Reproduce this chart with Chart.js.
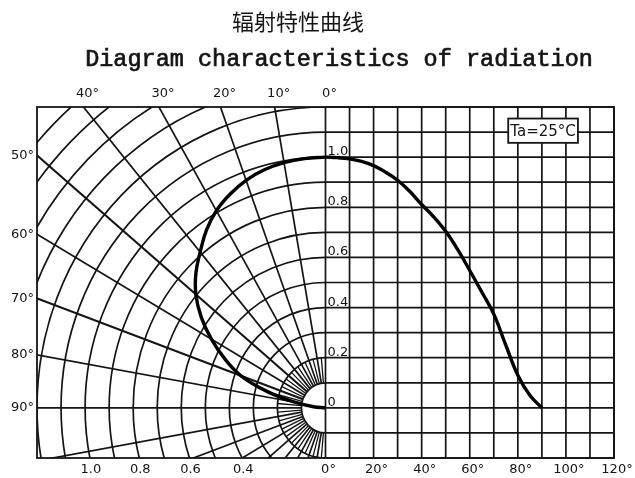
<!DOCTYPE html>
<html>
<head>
<meta charset="utf-8">
<script src="https://cdn.jsdelivr.net/npm/chart.js@4.4.1/dist/chart.umd.min.js"></script>
<style>
  html, body { margin: 0; padding: 0; background: #fff; }
  #wrap { width: 635px; height: 478px; }
</style>
</head>
<body>
<div id="wrap"><canvas id="radiacao"></canvas></div>
<script>
// angulos (graus) e intensidade relativa
const angles = [0, 5, 10, 15, 20, 25, 30, 35, 40, 45, 50, 55, 60, 65, 70, 75, 80, 85, 90];
const intensity = [1.0, 0.998, 0.993, 0.983, 0.966, 0.94, 0.908, 0.864, 0.811, 0.762, 0.704, 0.631, 0.548, 0.462, 0.374, 0.25, 0.13, 0.05, 0.0];

// rotulos dos eixos
const topAngleLabels = [0, 10, 20, 30, 40];
const leftAngleLabels = [50, 60, 70, 80, 90];
const radiusLabels = ["0.4", "0.6", "0.8", "1.0"];
const angleTicks = [0, 20, 40, 60, 80, 100, 120];
const intensityTicks = ["0", "0.2", "0.4", "0.6", "0.8", "1.0"];

const titleCn = "辐射特性曲线";
const titleEn = "Diagram characteristics of radiation";
const noteText = "Ta=25°C";

const ink = "#141414";
const labelFont = "13px 'DejaVu Sans'";

function rad(d) { return d * Math.PI / 180; }

// curva polar (lado esquerdo) e curva cartesiana (lado direito)
const polarPoints = angles.map((a, i) => ({ x: -intensity[i] * Math.sin(rad(a)), y: intensity[i] * Math.cos(rad(a)) }));
const linearPoints = angles.map((a, i) => ({ x: a / 100, y: intensity[i] }));

const gridPlugin = {
    id: 'gridPlugin',
    beforeDatasetsDraw(chart) {
        const ctx = chart.ctx;
        const a = chart.chartArea;
        const x = chart.scales.x, y = chart.scales.y;
        const cx = x.getPixelForValue(0), cy = y.getPixelForValue(0);
        const sx = x.getPixelForValue(1) - cx, sy = cy - y.getPixelForValue(1);

        ctx.save();
        ctx.strokeStyle = ink;
        ctx.lineWidth = 1.7;

        // grade retangular (direita)
        for (let v = 0; v <= 12; v++) {
            const px = x.getPixelForValue(v / 10);
            ctx.beginPath(); ctx.moveTo(px, a.top); ctx.lineTo(px, a.bottom); ctx.stroke();
        }
        for (let v = -2; v <= 12; v++) {
            const py = y.getPixelForValue(v / 10);
            ctx.beginPath(); ctx.moveTo(cx, py); ctx.lineTo(a.right, py); ctx.stroke();
        }

        // grade polar (esquerda)
        ctx.save();
        ctx.beginPath();
        ctx.rect(a.left, a.top, cx - a.left, a.bottom - a.top);
        ctx.clip();
        for (let k = 1; k <= 17; k++) {
            const r = k / 10;
            ctx.beginPath();
            ctx.ellipse(cx, cy, r * sx, r * sy, 0, Math.PI / 2, Math.PI * 1.5);
            ctx.stroke();
        }
        for (let d = 10; d < 180; d += 10) {
            const s = Math.sin(rad(d)), c = Math.cos(rad(d));
            ctx.lineWidth = (d == 50 || d == 70) ? 2.1 : 1.7;
            ctx.beginPath();
            ctx.moveTo(cx - 0.1 * sx * s, cy - 0.1 * sy * c);
            ctx.lineTo(cx - 3 * sx * s, cy - 3 * sy * c);
            ctx.stroke();
        }
        ctx.lineWidth = 1.3;
        for (let d = 5; d < 180; d += 10) {
            const s = Math.sin(rad(d)), c = Math.cos(rad(d));
            ctx.beginPath();
            ctx.moveTo(cx - 0.1 * sx * s, cy - 0.1 * sy * c);
            ctx.lineTo(cx - 0.2 * sx * s, cy - 0.2 * sy * c);
            ctx.stroke();
        }
        ctx.restore();

        ctx.lineWidth = 1.8;
        ctx.strokeRect(a.left, a.top, a.right - a.left, a.bottom - a.top);
        ctx.restore();
    },
    afterDraw(chart) {
        const ctx = chart.ctx;
        const a = chart.chartArea;
        const x = chart.scales.x, y = chart.scales.y;
        const cx = x.getPixelForValue(0);
        const yTop = y.max, xLeft = x.min, yBottom = y.min;

        ctx.save();
        ctx.fillStyle = ink;
        ctx.strokeStyle = ink;

        // titulos
        ctx.textAlign = "center";
        ctx.textBaseline = "middle";
        ctx.font = "22px 'Noto Sans CJK SC'";
        ctx.fillText(titleCn, 298, 22);
        ctx.textBaseline = "alphabetic";
        ctx.font = "23.5px 'Liberation Mono'";
        ctx.lineWidth = 0.7;
        ctx.fillText(titleEn, 339, 66);
        ctx.strokeText(titleEn, 339, 66);

        ctx.font = labelFont;
        // angulos no topo
        ctx.textBaseline = "middle";
        topAngleLabels.forEach(d => {
            const px = x.getPixelForValue(-yTop * Math.tan(rad(d)));
            ctx.fillText(d + "°", px + 4, a.top - 13);
        });
        // angulos na esquerda
        ctx.textAlign = "right";
        leftAngleLabels.forEach(d => {
            const py = y.getPixelForValue(-xLeft / Math.tan(rad(d)));
            ctx.fillText(d + "°", a.left - 3, py);
        });
        // raios embaixo
        ctx.textAlign = "center";
        radiusLabels.forEach(t => {
            const r = Number(t);
            const px = x.getPixelForValue(-Math.sqrt(r * r - yBottom * yBottom));
            ctx.fillText(t, px + 1, a.bottom + 12);
        });
        // graus no eixo x
        angleTicks.forEach(d => {
            ctx.fillText(d + "°", x.getPixelForValue(d / 100) + 3, a.bottom + 12);
        });
        // intensidade no eixo central
        ctx.textAlign = "left";
        ctx.textBaseline = "alphabetic";
        intensityTicks.forEach(t => {
            ctx.fillText(t, cx + 2, y.getPixelForValue(Number(t)) - 2);
        });

        // caixa Ta
        const bx1 = x.getPixelForValue(0.76), bx2 = x.getPixelForValue(1.05);
        const by1 = y.getPixelForValue(1.154), by2 = y.getPixelForValue(1.057);
        ctx.fillStyle = "#fff";
        ctx.fillRect(bx1, by1, bx2 - bx1, by2 - by1);
        ctx.lineWidth = 1.8;
        ctx.strokeRect(bx1, by1, bx2 - bx1, by2 - by1);
        ctx.fillStyle = ink;
        ctx.textAlign = "center";
        ctx.textBaseline = "middle";
        ctx.font = "15px 'DejaVu Sans'";
        ctx.fillText(noteText, (bx1 + bx2) / 2, (by1 + by2) / 2 + 1);
        ctx.restore();
    }
};

const ctx = document.getElementById('radiacao').getContext('2d');
new Chart(ctx, {
    type: 'scatter',
    data: {
        datasets: [
            {
                label: 'polar',
                data: polarPoints,
                showLine: true,
                borderColor: '#000',
                borderWidth: 3.4,
                pointRadius: 0,
                tension: 0.4
            },
            {
                label: 'linear',
                data: linearPoints,
                showLine: true,
                borderColor: '#000',
                borderWidth: 3.4,
                pointRadius: 0,
                tension: 0.4
            }
        ]
    },
    options: {
        responsive: true,
        maintainAspectRatio: false,
        animation: false,
        layout: { padding: { left: 37, right: 21, top: 107, bottom: 20 } },
        plugins: {
            legend: { display: false },
            tooltip: { enabled: false }
        },
        scales: {
            x: { type: 'linear', min: -1.2, max: 1.2, display: false },
            y: { type: 'linear', min: -0.2, max: 1.2, display: false }
        }
    },
    plugins: [gridPlugin]
});
</script>
</body>
</html>
